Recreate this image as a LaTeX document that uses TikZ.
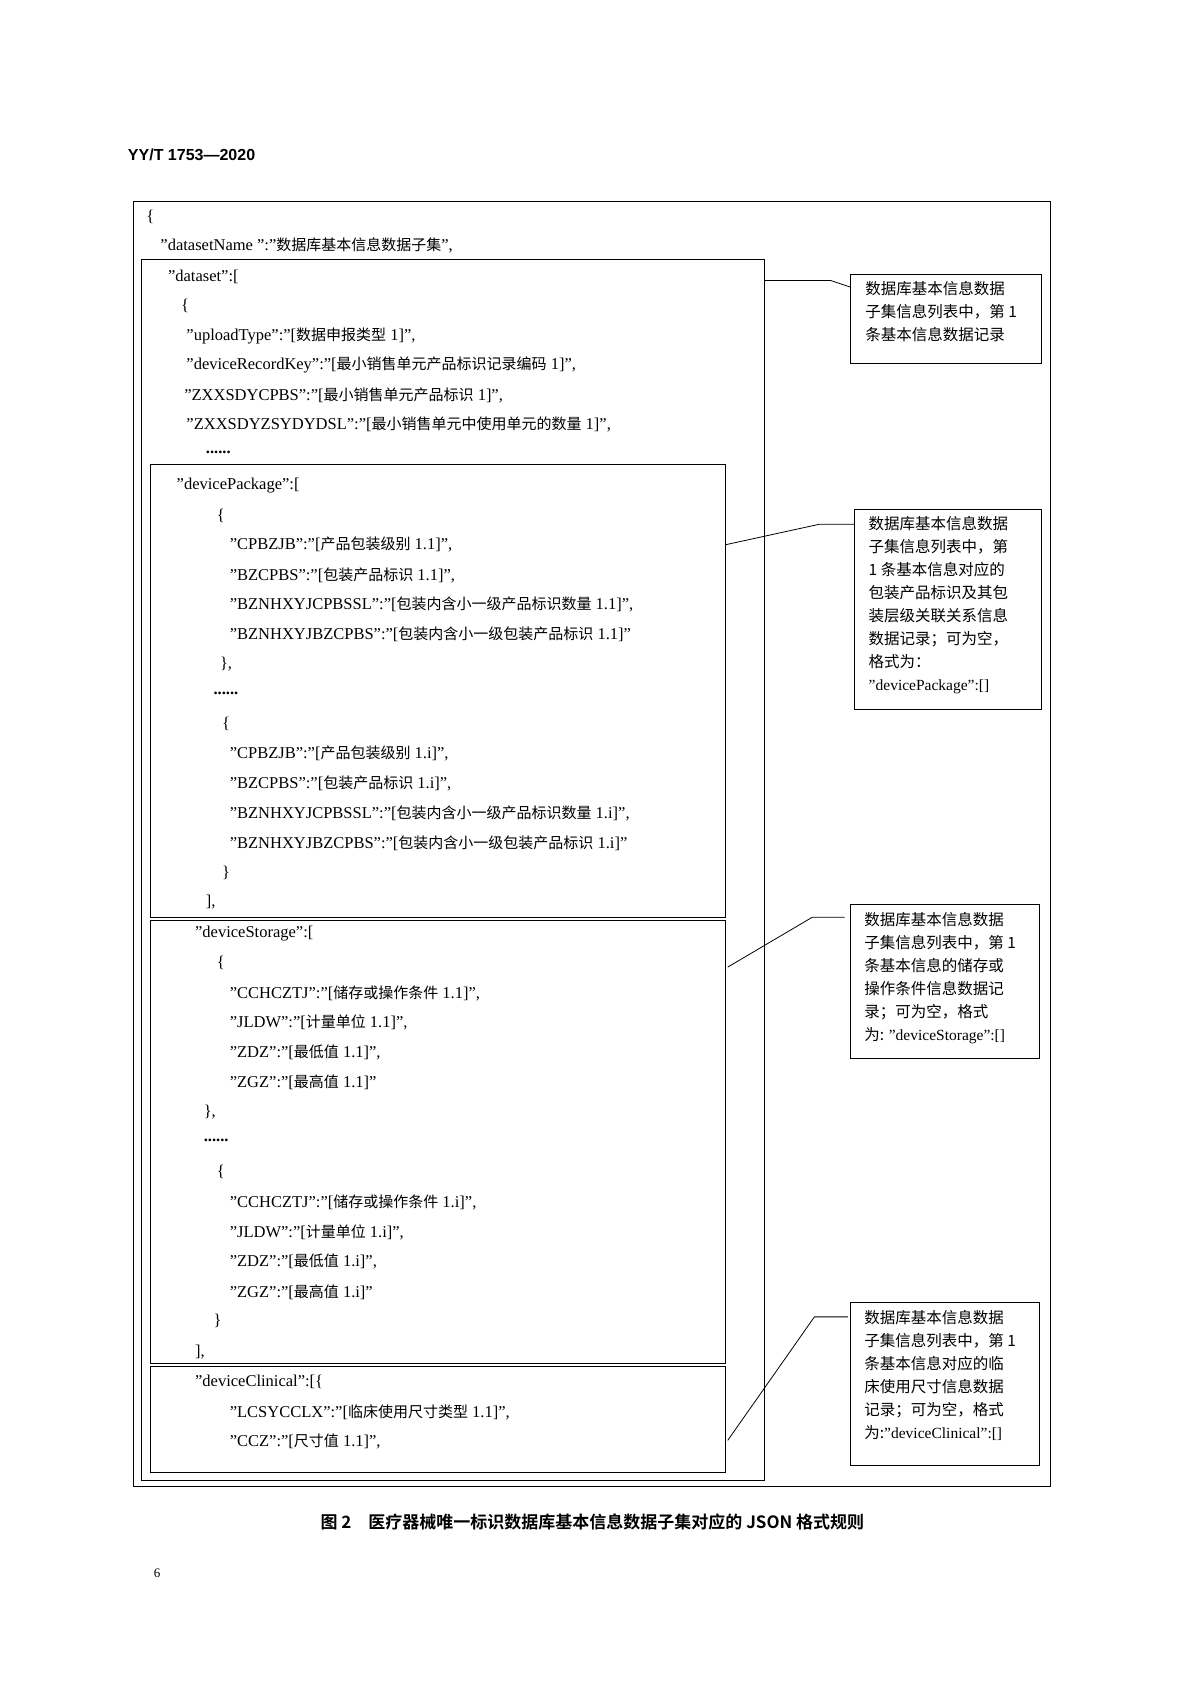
\documentclass[tikz,border=0pt]{standalone}
\usepackage{fontspec}
\setmainfont{Liberation Serif}
\newfontfamily\cjkf{Noto Sans CJK SC}
\newfontfamily\cjkb{Noto Sans CJK SC Bold}
\newfontfamily\hdf{Liberation Sans}
\newcommand\cj[1]{{\fontsize{15}{20}\cjkf\selectfont #1}}
\begin{document}
\begin{tikzpicture}[x=1.083pt,y=-1.083pt,
  jl/.style={anchor=west,inner sep=0pt,font=\fontsize{16.5}{20}\selectfont},
  bx/.style={draw,line width=0.9pt},
  note/.style={anchor=north west,inner sep=0pt,align=left,font=\fontsize{15.5}{23}\cjkf\selectfont},
  ln/.style={line width=0.8pt}]
\useasboundingbox (0,0) rectangle (1099.7,1555);
\node[anchor=west,inner sep=0pt,font=\fontsize{16}{20}\hdf\bfseries] (hd) at (118,143) {YY/T 1753—2020};
% boxes
\draw[bx] (123,186) rectangle (970,1373);
\draw[bx] (131,240) rectangle (706,1367);
\draw[bx] (139,429) rectangle (670,847);
\draw[bx] (139,850) rectangle (670,1259);
\draw[bx] (139,1262) rectangle (670,1360);
% json lines
\node[jl] (a1) at (135,200) {\{};
\node[jl] (a2) at (148,227) {"datasetName ":"\cj{数据库基本信息数据子集}",};
\node[jl] (a3) at (155,256) {"dataset":[};
\node[jl] (a4) at (167,282) {\{};
\node[jl] (a5) at (172,310) {"uploadType":"[\cj{数据申报类型} 1]",};
\node[jl] (a6) at (172,337) {"deviceRecordKey":"[\cj{最小销售单元产品标识记录编码} 1]",};
\node[jl] (a7) at (170,365) {"ZXXSDYCPBS":"[\cj{最小销售单元产品标识} 1]",};
\node[jl] (a8) at (172,392) {"ZXXSDYZSYDYDSL":"[\cj{最小销售单元中使用单元的数量} 1]",};
\node[jl] (a9) at (190,418) {\textbf{......}};
\node[jl] (b1) at (163,448) {"devicePackage":[};
\node[jl] (b2) at (200,476) {\{};
\node[jl] (b3) at (212,503) {"CPBZJB":"[\cj{产品包装级别} 1.1]",};
\node[jl] (b4) at (212,531) {"BZCPBS":"[\cj{包装产品标识} 1.1]",};
\node[jl] (b5) at (212,558) {"BZNHXYJCPBSSL":"[\cj{包装内含小一级产品标识数量} 1.1]",};
\node[jl] (b6) at (212,586) {"BZNHXYJBZCPBS":"[\cj{包装内含小一级包装产品标识} 1.1]"};
\node[jl] (b7) at (203,613) {\},};
\node[jl] (b8) at (197,640) {\textbf{......}};
\node[jl] (b9) at (205,668) {\{};
\node[jl] (b10) at (212,696) {"CPBZJB":"[\cj{产品包装级别} 1.i]",};
\node[jl] (b11) at (212,723) {"BZCPBS":"[\cj{包装产品标识} 1.i]",};
\node[jl] (b12) at (212,751) {"BZNHXYJCPBSSL":"[\cj{包装内含小一级产品标识数量} 1.i]",};
\node[jl] (b13) at (212,779) {"BZNHXYJBZCPBS":"[\cj{包装内含小一级包装产品标识} 1.i]"};
\node[jl] (b14) at (205,806) {\}};
\node[jl] (b15) at (190,833) {],};
\node[jl] (c1) at (180,862) {"deviceStorage":[};
\node[jl] (c2) at (200,889) {\{};
\node[jl] (c3) at (212,917) {"CCHCZTJ":"[\cj{储存或操作条件} 1.1]",};
\node[jl] (c4) at (212,944) {"JLDW":"[\cj{计量单位} 1.1]",};
\node[jl] (c5) at (212,972) {"ZDZ":"[\cj{最低值} 1.1]",};
\node[jl] (c6) at (212,999) {"ZGZ":"[\cj{最高值} 1.1]"};
\node[jl] (c7) at (188,1027) {\},};
\node[jl] (c8) at (188,1053) {\textbf{......}};
\node[jl] (c9) at (200,1082) {\{};
\node[jl] (c10) at (212,1110) {"CCHCZTJ":"[\cj{储存或操作条件} 1.i]",};
\node[jl] (c11) at (212,1138) {"JLDW":"[\cj{计量单位} 1.i]",};
\node[jl] (c12) at (212,1165) {"ZDZ":"[\cj{最低值} 1.i]",};
\node[jl] (c13) at (212,1193) {"ZGZ":"[\cj{最高值} 1.i]"};
\node[jl] (c14) at (197,1220) {\}};
\node[jl] (c15) at (180,1248) {],};
\node[jl] (d1) at (180,1276) {"deviceClinical":[\{};
\node[jl] (d2) at (212,1304) {"LCSYCCLX":"[\cj{临床使用尺寸类型} 1.1]",};
\node[jl] (d3) at (212,1331) {"CCZ":"[\cj{尺寸值} 1.1]",};
% notes
\draw[bx] (785,253) rectangle (962,336);
\node[note] (n1) at (799,260) {数据库基本信息数据\\子集信息列表中，第 1\\条基本信息数据记录};
\draw[bx] (789,470) rectangle (962,655);
\node[note] (n2) at (802,477) {数据库基本信息数据\\子集信息列表中，第\\1 条基本信息对应的\\包装产品标识及其包\\装层级关联关系信息\\数据记录；可为空，\\格式为：\\{\fontfamily{}\rmfamily"devicePackage":[]}};
\draw[bx] (785,835) rectangle (960,977);
\node[note] (n3) at (798,842) {数据库基本信息数据\\子集信息列表中，第 1\\条基本信息的储存或\\操作条件信息数据记\\录；可为空，格式\\为: {\rmfamily"deviceStorage":[]}};
\draw[bx] (785,1203) rectangle (960,1353);
\node[note] (n4) at (798,1210) {数据库基本信息数据\\子集信息列表中，第 1\\条基本信息对应的临\\床使用尺寸信息数据\\记录；可为空，格式\\为:{\rmfamily"deviceClinical":[]}};
% connectors
\coordinate (p1) at (767,259);
\draw[ln] (706,259) -- (p1) -- (785,265);
\coordinate (p2) at (757,484);
\draw[ln] (670,503) -- (p2) -- (789,484);
\coordinate (p3) at (750,847);
\draw[ln] (672,893) -- (p3) -- (780,847);
\coordinate (p4) at (752,1216);
\draw[ln] (672,1330) -- (p4) -- (783,1216);
% caption
\node[inner sep=0pt,font=\fontsize{17}{20}\cjkb\selectfont] (cap) at (547,1405) {图 2\quad 医疗器械唯一标识数据库基本信息数据子集对应的 JSON 格式规则};
\node[inner sep=0pt,font=\fontsize{13}{16}\selectfont] (pg) at (145,1453) {6};
\end{tikzpicture}
\end{document}
